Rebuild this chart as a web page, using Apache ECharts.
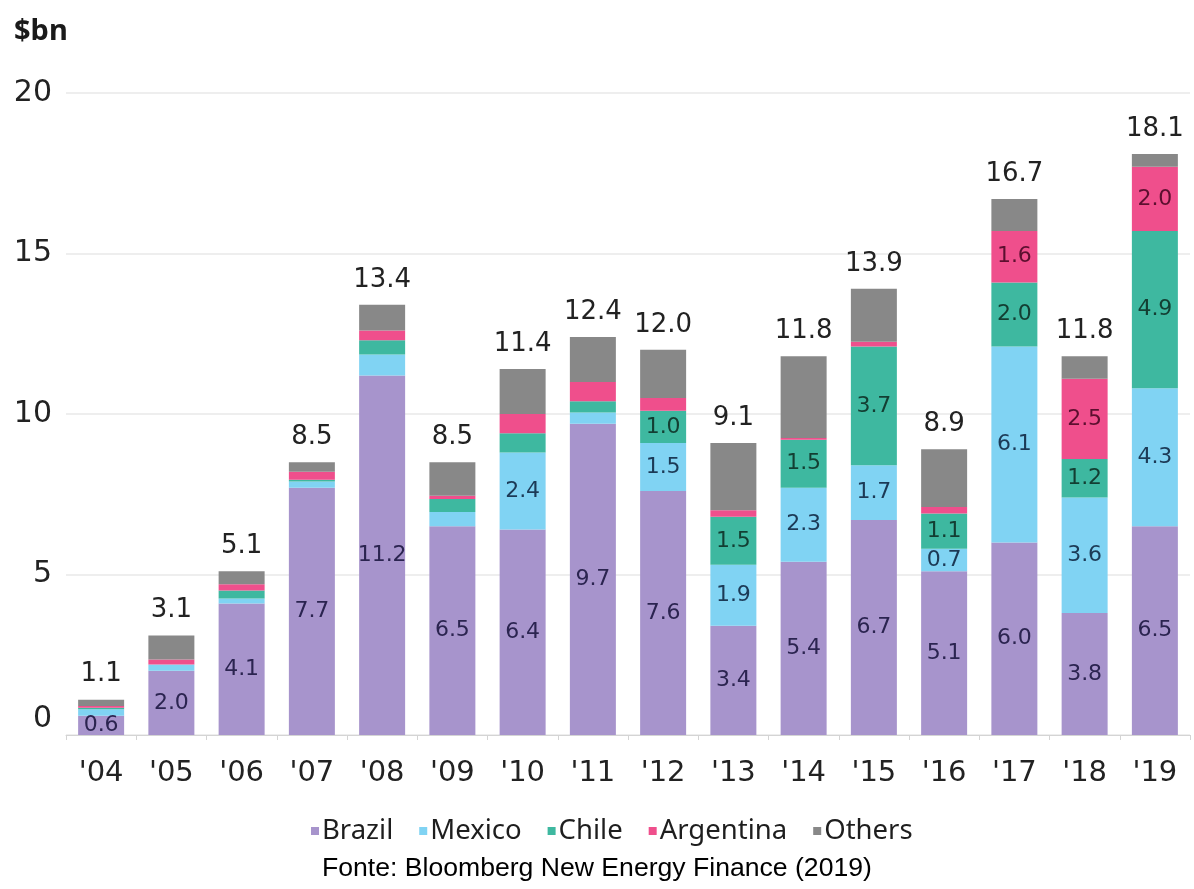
<!DOCTYPE html>
<html>
<head>
<meta charset="utf-8">
<script src="https://cdn.jsdelivr.net/npm/echarts@6/dist/echarts.min.js"></script>
<style>
  html, body { margin: 0; padding: 0; background: #ffffff; }
  #chart { width: 1194px; height: 889px; }
</style>
</head>
<body>
<div id="chart"></div>
<script>
// Latin America clean-energy investment, $bn, by country
const years = ["'04", "'05", "'06", "'07", "'08", "'09", "'10", "'11", "'12", "'13", "'14", "'15", "'16", "'17", "'18", "'19"];
const brazil    = [0.6, 2.0, 4.1, 7.7, 11.2, 6.5, 6.4, 9.7, 7.6, 3.4, 5.4, 6.7, 5.1, 6.0, 3.8, 6.5];
const mexico    = [0.2, 0.2, 0.15, 0.2, 0.65, 0.45, 2.4, 0.35, 1.5, 1.9, 2.3, 1.7, 0.7, 6.1, 3.6, 4.3];
const chile     = [0.05, 0.0, 0.25, 0.05, 0.45, 0.4, 0.6, 0.35, 1.0, 1.5, 1.5, 3.7, 1.1, 2.0, 1.2, 4.9];
const argentina = [0.05, 0.15, 0.2, 0.25, 0.3, 0.1, 0.6, 0.6, 0.4, 0.2, 0.05, 0.15, 0.2, 1.6, 2.5, 2.0];
const others    = [0.2, 0.75, 0.4, 0.3, 0.8, 1.05, 1.4, 1.4, 1.5, 2.1, 2.55, 1.65, 1.8, 1.0, 0.7, 0.4];
const yTicks = [0, 5, 10, 15, 20];

// stacked totals shown above each bar
const totals = years.map((_, i) => brazil[i] + mexico[i] + chile[i] + argentina[i] + others[i]);

const numFont = 'DejaVu Sans';
const MIN_LABEL = 0.7;

function segLabel(color, always) {
  return {
    show: true,
    position: 'inside',
    fontFamily: numFont,
    fontSize: 22,
    color: color,
    formatter: p => (always || p.value >= MIN_LABEL) ? p.value.toFixed(1) : ''
  };
}

const chart = echarts.init(document.getElementById('chart'), null, { renderer: 'canvas' });

chart.setOption({
  backgroundColor: '#ffffff',
  animation: false,
  title: [
    {
      text: '$bn',
      left: 9, top: 12,
      textStyle: { fontFamily: 'Noto Sans', fontWeight: 'bold', fontSize: 29, color: '#1a1a1a' }
    },
    {
      text: 'Fonte: Bloomberg New Energy Finance (2019)',
      left: 317, top: 850,
      textStyle: { fontFamily: 'Liberation Sans', fontWeight: 'normal', fontSize: 26.6, color: '#000000' }
    }
  ],
  legend: {
    left: 306, top: 812,
    icon: 'rect',
    itemWidth: 8, itemHeight: 8,
    itemGap: 26,
    textStyle: { fontFamily: 'Noto Sans', fontSize: 27.5, color: '#1e1e1e', padding: [0, 0, 0, -2] },
    data: ['Brazil', 'Mexico', 'Chile', 'Argentina', 'Others']
  },
  grid: { left: 66, right: 4, top: 93, bottom: 154, containLabel: false },
  xAxis: {
    type: 'category',
    data: years,
    axisLine: { lineStyle: { color: '#d4d4d4', width: 1 } },
    axisTick: { show: true, length: 5, lineStyle: { color: '#d4d4d4' } },
    axisLabel: { fontFamily: numFont, fontSize: 29, color: '#222222', margin: 24 }
  },
  yAxis: {
    type: 'value',
    min: yTicks[0], max: yTicks[yTicks.length - 1], interval: 5,
    axisLine: { show: false },
    axisTick: { show: false },
    splitLine: { lineStyle: { color: '#e8e8e8', width: 1.5 } },
    axisLabel: {
      fontFamily: numFont, fontSize: 30, color: '#222222', margin: 14,
      formatter: v => v === 0 ? '{z|0}' : String(v),
      rich: { z: { fontFamily: numFont, fontSize: 30, color: '#222222', padding: [0, 0, 32, 0] } }
    }
  },
  series: [
    {
      name: 'Brazil', type: 'bar', stack: 'inv', barWidth: 46,
      itemStyle: { color: '#a794cc' },
      label: segLabel('#2b2450', true),
      data: brazil
    },
    {
      name: 'Mexico', type: 'bar', stack: 'inv', barWidth: 46,
      itemStyle: { color: '#80d3f3' },
      label: segLabel('#1c3a56', false),
      data: mexico
    },
    {
      name: 'Chile', type: 'bar', stack: 'inv', barWidth: 46,
      itemStyle: { color: '#3eb8a0' },
      label: segLabel('#133e32', false),
      data: chile
    },
    {
      name: 'Argentina', type: 'bar', stack: 'inv', barWidth: 46,
      itemStyle: { color: '#ef4f8c' },
      label: segLabel('#5c0f2f', false),
      data: argentina
    },
    {
      name: 'Others', type: 'bar', stack: 'inv', barWidth: 46,
      itemStyle: { color: '#888888' },
      label: {
        show: true,
        position: 'top',
        distance: 12,
        fontFamily: numFont,
        fontSize: 26,
        color: '#222222',
        formatter: p => totals[p.dataIndex].toFixed(1)
      },
      data: others
    }
  ]
});
</script>
</body>
</html>
